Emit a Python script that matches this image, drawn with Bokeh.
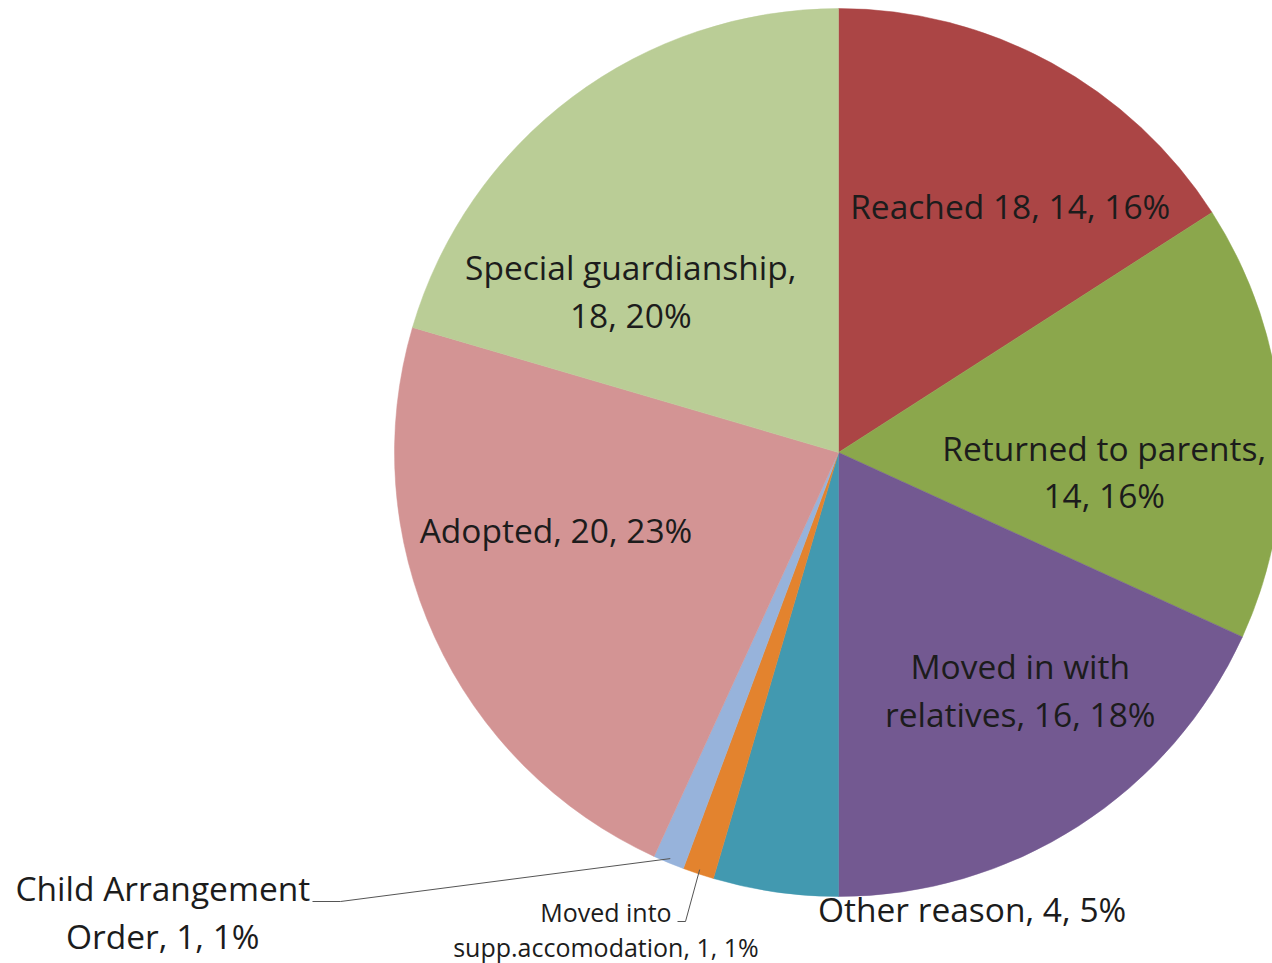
import math
from bokeh.plotting import figure
from bokeh.models import ColumnDataSource
from bokeh.core.properties import value
from bokeh.embed import file_html
from bokeh.resources import INLINE

# ---- data ----
categories = ["Reached 18", "Returned to parents", "Moved in with relatives", "Other reason",
              "Moved into supp.accomodation", "Child Arrangement Order", "Adopted", "Special guardianship"]
counts = [14, 14, 16, 4, 1, 1, 20, 18]
label_texts = [
    "Reached 18, 14, 16%",
    "Returned to parents,\n14, 16%",
    "Moved in with\nrelatives, 16, 18%",
    "Other reason, 4, 5%",
    "Moved into\nsupp.accomodation, 1, 1%",
    "Child Arrangement\nOrder, 1, 1%",
    "Adopted, 20, 23%",
    "Special guardianship,\n18, 20%",
]
colors = ["#AB4545", "#8BA74C", "#735991", "#4299B0", "#E3832E", "#97B3DB", "#D39494", "#BACD96"]

# label placement (polar: angle clockwise from top in degrees, radius fraction) and sizes
label_angle = [34.9, 94.1, 142.6, 163.7, 206.0, 235.8, 254.6, 307.9]
label_rfrac = [0.676, 0.60, 0.674, 1.072, 1.195, 1.84, 0.66, 0.593]
label_size = [33.5, 33.5, 33.5, 33.5, 25, 33.5, 33.5, 33.5]

W, H = 1272, 963
CX, CY, R = 838, 511, 444

total = sum(counts)
starts, ends = [], []
cum = 0
for c in counts:
    a0 = math.pi / 2 - 2 * math.pi * cum / total
    cum += c
    a1 = math.pi / 2 - 2 * math.pi * cum / total
    starts.append(a0)
    ends.append(a1)

src = ColumnDataSource(dict(cat=categories, val=counts, start=starts, end=ends, color=colors))

p = figure(width=W, height=H, x_range=(0, W), y_range=(0, H),
           output_backend="svg", toolbar_location=None, min_border=0)
p.axis.visible = False
p.grid.visible = False
p.outline_line_color = None
p.background_fill_color = "white"

p.wedge(x=CX, y=CY, radius=R, start_angle="start", end_angle="end", direction="clock",
        fill_color="color", line_color="color", line_width=0.5, source=src)

# leader lines for the two small outside labels
def edge_point(i, frac=1.0):
    cum_before = sum(counts[:i])
    mid = 2 * math.pi * (cum_before + counts[i] / 2) / total
    return CX + frac * R * math.sin(mid), CY + frac * R * math.cos(mid)

ex, ey = edge_point(5, 0.99)
p.line([312, 340, ex], [H - 901, H - 901, ey], line_color="#555555", line_width=1)
ex, ey = edge_point(4, 0.99)
p.line([677, 685, ex], [H - 921, H - 921, ey], line_color="#555555", line_width=1)

# labels
for i, t in enumerate(label_texts):
    th = math.radians(label_angle[i])
    lx = CX + label_rfrac[i] * R * math.sin(th)
    ly = CY + label_rfrac[i] * R * math.cos(th)
    p.text(x=[lx], y=[ly], text=[t], text_align="center", text_baseline="middle",
           text_font=value("Open Sans"), text_font_size=f"{label_size[i]}px",
           text_color="#1c1c1c", text_line_height=1.04)

open("out.html", "w").write(file_html(p, INLINE))
